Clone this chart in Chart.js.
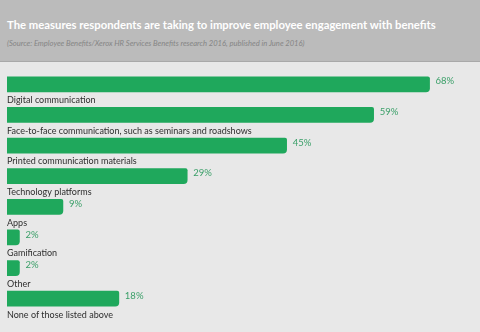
<!DOCTYPE html>
<html>
<head>
<meta charset="utf-8">
<script src="https://cdn.jsdelivr.net/npm/chart.js@4.4.1/dist/chart.umd.min.js"></script>
<style>
  html, body { margin: 0; padding: 0; width: 480px; height: 332px; overflow: hidden; background: #e8e8e8; font-family: Lato, "Open Sans", sans-serif; }
  #hdr { position: absolute; left: 0; top: 0; width: 480px; height: 62px; background: #bbbbbb; border-bottom: 1px solid #a9a9a9; box-sizing: border-box; }
  #title { position: absolute; left: 7px; top: 18px; font-size: 11.3px; font-weight: bold; color: #ffffff; white-space: nowrap; }
  #sub { position: absolute; left: 7px; top: 38px; font-size: 7.6px; font-style: italic; color: #858585; white-space: nowrap; }
  #wrap { position: absolute; left: 0; top: 62px; width: 480px; height: 270px; }
</style>
</head>
<body>
<div id="hdr">
  <div id="title">The measures respondents are taking to improve employee engagement with benefits</div>
  <div id="sub">(Source: Employee Benefits/Xerox HR Services Benefits research 2016, published in June 2016)</div>
</div>
<div id="wrap"><canvas id="c" width="480" height="270"></canvas></div>
<script>
const categories = [
  "Digital communication",
  "Face-to-face communication, such as seminars and roadshows",
  "Printed communication materials",
  "Technology platforms",
  "Apps",
  "Gamification",
  "Other",
  "None of those listed above"
];
const percentValues = [68, 59, 45, 29, 9, 2, 2, 18];

const valueLabels = {
  id: 'valueLabels',
  afterDatasetsDraw(chart) {
    const ctx = chart.ctx;
    const meta = chart.getDatasetMeta(0);
    ctx.save();
    ctx.font = '9.5px Lato, sans-serif';
    ctx.fillStyle = '#3a9f68';
    ctx.textAlign = 'left';
    ctx.textBaseline = 'middle';
    meta.data.forEach((bar, i) => {
      ctx.fillText(percentValues[i] + '%', bar.x + 6, bar.y - 3);
    });
    ctx.restore();
  }
};

new Chart(document.getElementById('c'), {
  type: 'bar',
  data: {
    labels: categories,
    datasets: [{
      data: percentValues,
      backgroundColor: '#1fa85c',
      borderRadius: { topLeft: 0, bottomLeft: 0, topRight: 2, bottomRight: 4 },
      borderSkipped: false,
      barThickness: 15
    }]
  },
  options: {
    indexAxis: 'y',
    responsive: false,
    animation: false,
    layout: { padding: { left: 7, right: 38, top: 7, bottom: 18 } },
    plugins: { legend: { display: false }, tooltip: { enabled: false } },
    scales: {
      x: { display: false, min: 0, max: 70 },
      y: {
        grid: { display: false, drawTicks: false },
        border: { display: false },
        ticks: {
          mirror: true,
          padding: 0,
          autoSkip: false,
          labelOffset: 16,
          color: '#2e2e2e',
          font: { family: 'Lato', size: 9 }
        }
      }
    }
  },
  plugins: [valueLabels]
});
</script>
</body>
</html>
